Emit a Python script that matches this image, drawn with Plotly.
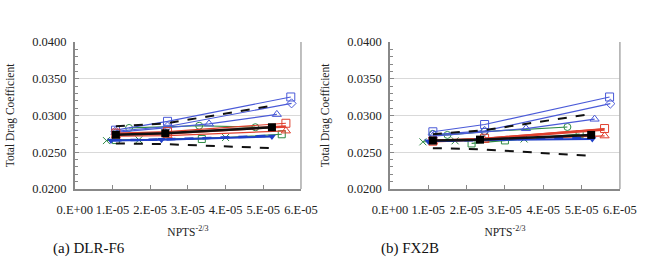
import plotly.graph_objects as go

# ---------------- data ----------------
# (a) DLR-F6
f6_black_x = [1.09e-5, 2.40e-5, 5.23e-5]
f6_black_y = [0.02736, 0.02757, 0.02839]
f6_dash_hi_x = [1.09e-5, 2.40e-5, 5.23e-5]
f6_dash_hi_y = [0.02852, 0.02890, 0.03132]
f6_dash_lo_x = [1.09e-5, 2.40e-5, 5.23e-5]
f6_dash_lo_y = [0.02619, 0.02610, 0.02555]
f6_bsq_x = [1.08e-5, 2.46e-5, 5.73e-5]
f6_bsq_y = [0.02800, 0.02920, 0.03252]
f6_bdia_x = [1.08e-5, 2.46e-5, 5.75e-5]
f6_bdia_y = [0.02785, 0.02850, 0.03165]
f6_btri_x = [1.08e-5, 3.56e-5, 5.36e-5]
f6_btri_y = [0.02770, 0.02886, 0.03015]
f6_rsq_x = [1.09e-5, 2.46e-5, 5.60e-5]
f6_rsq_y = [0.02760, 0.02780, 0.02894]
f6_rtri_x = [1.09e-5, 2.46e-5, 5.60e-5]
f6_rtri_y = [0.02720, 0.02725, 0.02790]
f6_red_x = [1.09e-5, 2.40e-5, 5.60e-5]
f6_red_y = [0.02745, 0.02755, 0.02850]
f6_gcir_x = [1.44e-5, 3.30e-5, 4.79e-5]
f6_gcir_y = [0.02830, 0.02860, 0.02840]
f6_gsq_x = [1.09e-5, 3.37e-5, 5.49e-5]
f6_gsq_y = [0.02665, 0.02680, 0.02744]
f6_bdn_x = [0.96e-5, 2.30e-5, 5.23e-5]
f6_bdn_y = [0.02658, 0.02671, 0.02714]
f6_gx_x = [0.84e-5, 1.70e-5, 4.00e-5]
f6_gx_y = [0.02658, 0.02668, 0.02700]
f6_bdash_x = [1.00e-5, 2.30e-5, 5.20e-5]
f6_bdash_y = [0.02662, 0.02672, 0.02722]

# (b) FX2B
fx_black_x = [1.12e-5, 2.35e-5, 5.25e-5]
fx_black_y = [0.02658, 0.02671, 0.02735]
fx_dash_hi_x = [1.12e-5, 2.47e-5, 5.28e-5]
fx_dash_hi_y = [0.02745, 0.02800, 0.03023]
fx_dash_lo_x = [1.12e-5, 2.35e-5, 5.28e-5]
fx_dash_lo_y = [0.02555, 0.02540, 0.02448]
fx_bsq_x = [1.12e-5, 2.47e-5, 5.73e-5]
fx_bsq_y = [0.02778, 0.02877, 0.03252]
fx_bdia_x = [1.12e-5, 2.47e-5, 5.75e-5]
fx_bdia_y = [0.02740, 0.02790, 0.03161]
fx_btri_x = [1.12e-5, 3.55e-5, 5.34e-5]
fx_btri_y = [0.02720, 0.02822, 0.02951]
fx_rsq_x = [1.12e-5, 2.47e-5, 5.60e-5]
fx_rsq_y = [0.02650, 0.02690, 0.02822]
fx_rtri_x = [1.12e-5, 2.47e-5, 5.60e-5]
fx_rtri_y = [0.02640, 0.02665, 0.02723]
fx_red_x = [1.12e-5, 2.40e-5, 5.60e-5]
fx_red_y = [0.02655, 0.02680, 0.02810]
fx_gcir_x = [1.12e-5, 1.50e-5, 2.47e-5, 4.63e-5]
fx_gcir_y = [0.02750, 0.02735, 0.02780, 0.02843]
fx_gsq_x = [2.13e-5, 3.00e-5, 4.95e-5]
fx_gsq_y = [0.02619, 0.02660, 0.02745]
fx_bdn_x = [1.00e-5, 2.30e-5, 5.28e-5]
fx_bdn_y = [0.02650, 0.02665, 0.02680]
fx_gx_x = [0.86e-5, 1.70e-5, 3.50e-5]
fx_gx_y = [0.02641, 0.02655, 0.02680]
fx_bdash_x = [1.00e-5, 2.30e-5, 5.20e-5]
fx_bdash_y = [0.02650, 0.02665, 0.02700]

x_tick_vals = [0, 1e-5, 2e-5, 3e-5, 4e-5, 5e-5, 6e-5]
x_tick_text = ["0.E+00", "1.E-05", "2.E-05", "3.E-05", "4.E-05", "5.E-05", "6.E-05"]
y_tick_vals = [0.020, 0.025, 0.030, 0.035, 0.040]
y_tick_text = ["0.0200", "0.0250", "0.0300", "0.0350", "0.0400"]
captions = ["(a) DLR-F6", "(b) FX2B"]

# ---------------- styles ----------------
BLUE = "#4a5ad8"
DBLUE = "#1f3fc8"
RED = "#e0402f"
GREEN = "#2f8a45"
FONT = "Liberation Serif"

fig = go.Figure()

def add_panel(d, xa, ya):
    specs = [
        (d["gx"], dict(color=GREEN, width=1), dict(symbol="x-thin-open", size=7, color=GREEN, line=dict(width=1, color=GREEN))),
        (d["gsq"], dict(color=GREEN, width=1.2), dict(symbol="square-open", size=7, color=GREEN)),
        (d["gcir"], dict(color=GREEN, width=1.2), dict(symbol="circle-open", size=7, color=GREEN)),
        (d["btri"], dict(color=BLUE, width=1.2), dict(symbol="triangle-up-open", size=8, color=BLUE)),
        (d["bdia"], dict(color=BLUE, width=1.2), dict(symbol="diamond-open", size=7, color=BLUE)),
        (d["bsq"], dict(color=BLUE, width=1.2), dict(symbol="square-open", size=8, color=BLUE)),
        (d["rtri"], dict(color=RED, width=1.2), dict(symbol="triangle-up-open", size=8, color=RED)),
        (d["rsq"], dict(color=RED, width=1.2), dict(symbol="square-open", size=8, color=RED)),
        (d["red"], dict(color=RED, width=2.5), None),
        (d["bdn"], dict(color=DBLUE, width=2), dict(symbol="triangle-down", size=7, color=DBLUE)),
        (d["bdash"], dict(color=DBLUE, width=2.5, dash="dash"), None),
        (d["dhi"], dict(color="#111111", width=2, dash="dash"), None),
        (d["dlo"], dict(color="#111111", width=2, dash="dash"), None),
        (d["black"], dict(color="#111111", width=2.5), dict(symbol="square", size=8, color="#000000")),
    ]
    for (xs, ys), line, marker in specs:
        fig.add_trace(go.Scatter(
            x=xs, y=ys, xaxis=xa, yaxis=ya,
            mode="lines+markers" if marker else "lines",
            line=line, marker=marker, showlegend=False, hoverinfo="skip"))

f6 = dict(black=(f6_black_x, f6_black_y), dhi=(f6_dash_hi_x, f6_dash_hi_y), dlo=(f6_dash_lo_x, f6_dash_lo_y),
          bsq=(f6_bsq_x, f6_bsq_y), bdia=(f6_bdia_x, f6_bdia_y), btri=(f6_btri_x, f6_btri_y),
          rsq=(f6_rsq_x, f6_rsq_y), rtri=(f6_rtri_x, f6_rtri_y), red=(f6_red_x, f6_red_y),
          gcir=(f6_gcir_x, f6_gcir_y), gsq=(f6_gsq_x, f6_gsq_y), bdn=(f6_bdn_x, f6_bdn_y),
          gx=(f6_gx_x, f6_gx_y), bdash=(f6_bdash_x, f6_bdash_y))
fx = dict(black=(fx_black_x, fx_black_y), dhi=(fx_dash_hi_x, fx_dash_hi_y), dlo=(fx_dash_lo_x, fx_dash_lo_y),
          bsq=(fx_bsq_x, fx_bsq_y), bdia=(fx_bdia_x, fx_bdia_y), btri=(fx_btri_x, fx_btri_y),
          rsq=(fx_rsq_x, fx_rsq_y), rtri=(fx_rtri_x, fx_rtri_y), red=(fx_red_x, fx_red_y),
          gcir=(fx_gcir_x, fx_gcir_y), gsq=(fx_gsq_x, fx_gsq_y), bdn=(fx_bdn_x, fx_bdn_y),
          gx=(fx_gx_x, fx_gx_y), bdash=(fx_bdash_x, fx_bdash_y))

add_panel(f6, "x", "y")
add_panel(fx, "x2", "y2")

W, H = 653, 266
ydom = [(266 - 192) / H, (266 - 37) / H]
xdoms = [[60 / W, 299 / W], [393 / W, 636 / W]]

def xaxis(dom, anchor):
    return dict(domain=dom, anchor=anchor, range=[0, 6e-5], tickvals=x_tick_vals, ticktext=x_tick_text,
                ticks="inside", ticklen=4, tickcolor="#888", showline=True, linecolor="#888", linewidth=1.5,
                mirror=False, showgrid=False, zeroline=False, ticklabelstandoff=8, tickangle=0,
                tickfont=dict(family=FONT, size=12.5, color="#222"),
                title=dict(text="NPTS<sup>-2/3</sup>", font=dict(family=FONT, size=11.5, color="#222"), standoff=12))

def yaxis(anchor):
    return dict(domain=ydom, anchor=anchor, range=[0.02, 0.04], tickvals=y_tick_vals, ticktext=y_tick_text,
                ticks="inside", ticklen=4, tickcolor="#888", showline=True, linecolor="#888", linewidth=1.5,
                showgrid=True, gridcolor="#d9d9d9", gridwidth=1, zeroline=False, ticklabelstandoff=4,
                minor=dict(dtick=0.001, ticks="inside", ticklen=3, tickcolor="#888", showgrid=False),
                tickfont=dict(family=FONT, size=12.5, color="#222"),
                title=dict(text="Total Drag Coefficient", font=dict(family=FONT, size=11.5, color="#222"), standoff=15))

layout = dict(width=W, height=H, margin=dict(l=0, r=0, t=0, b=0),
              paper_bgcolor="white", plot_bgcolor="white", showlegend=False,
              font=dict(family=FONT),
              xaxis=xaxis(xdoms[0], "y"), yaxis=yaxis("x"),
              xaxis2=xaxis(xdoms[1], "y2"), yaxis2=yaxis("x2"))
fig.update_layout(**layout)

for xa, ya in [("x", "y"), ("x2", "y2")]:
    fig.add_shape(type="line", xref=f"{xa} domain", yref=f"{ya} domain", x0=1, x1=1, y0=0, y1=1,
                  line=dict(color="#aaa", width=1.5))

fig.add_annotation(text=captions[0], xref="paper", yref="paper", x=35 / W, y=(266 - 255) / H,
                   xanchor="left", yanchor="middle", showarrow=False, font=dict(family=FONT, size=15, color="#111"))
fig.add_annotation(text=captions[1], xref="paper", yref="paper", x=381 / W, y=(266 - 255) / H,
                   xanchor="left", yanchor="middle", showarrow=False, font=dict(family=FONT, size=15, color="#111"))

fig.write_html("out.html")
